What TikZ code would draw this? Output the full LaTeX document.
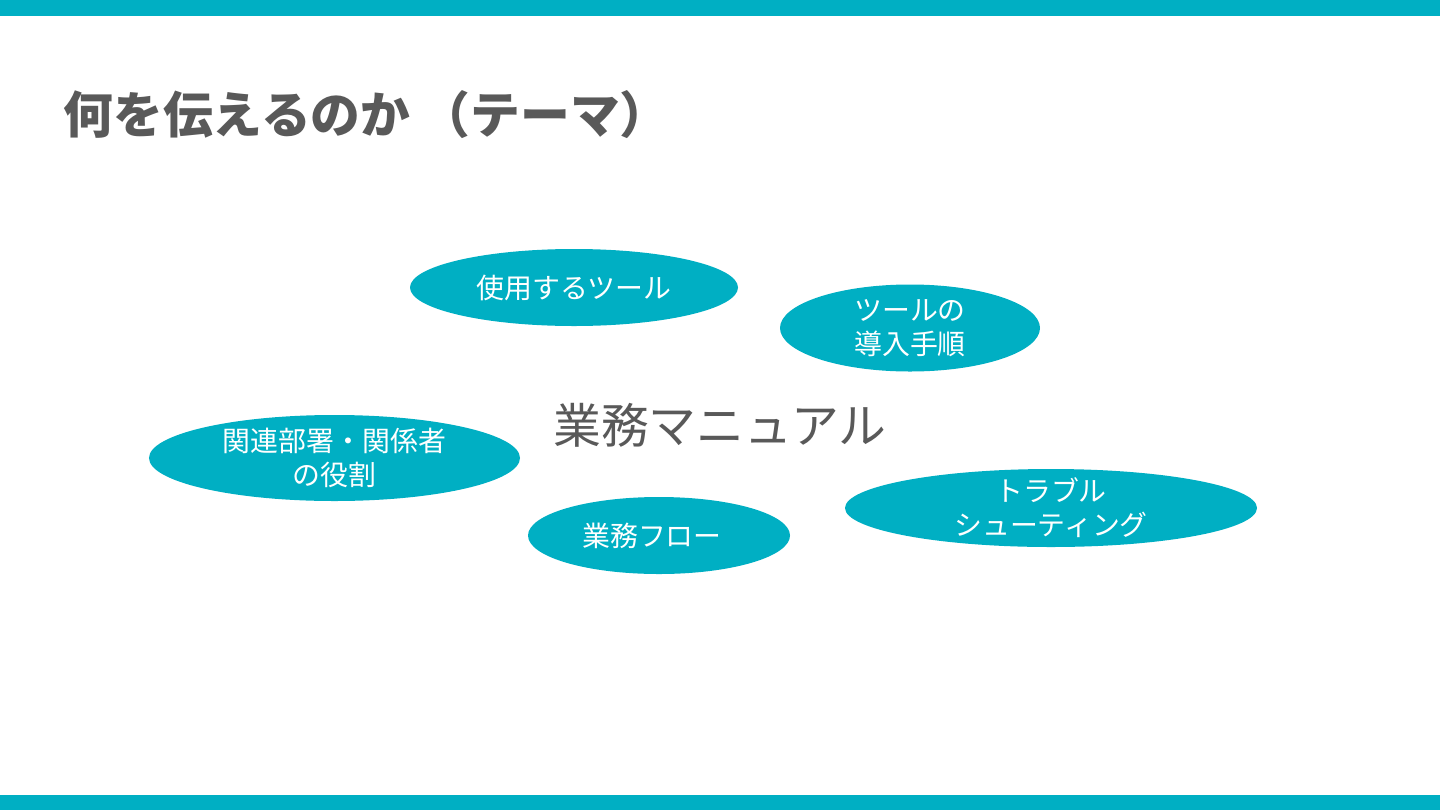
\documentclass[tikz,border=0pt]{standalone}
\usepackage{fontspec}
\setmainfont{Noto Sans CJK JP}
\usetikzlibrary{shapes.geometric}
\definecolor{teal}{RGB}{0,175,195}
\definecolor{textgray}{RGB}{89,89,89}
\tikzset{
    topic/.style={ellipse, fill=teal, text=white, inner xsep=0pt, inner ysep=-2bp, align=center, font=\fontsize{14}{17}\selectfont},
    bar/.style={fill=teal, draw=none}
}

\begin{document}
\begin{tikzpicture}[x=0.5bp, y=-0.5bp]
        \useasboundingbox (0,0) rectangle (1440,810);

        % --- Bars ---
        \fill [bar] (0,0) rectangle (1440,16);
        \fill [bar] (0,795) rectangle (1440,810);

        % --- Title ---
        \node [anchor=west, text=textgray, inner sep=0pt, font=\fontsize{25}{29}\selectfont\bfseries] (title) at (63,115) {何を伝えるのか\hspace{5bp}（テーマ）};

        % --- Center ---
        \node [text=textgray, font=\fontsize{24}{28}\selectfont] (manual) at (720,425) {業務マニュアル};

        % --- Topics ---
        \node [topic, minimum width=164bp, minimum height=38.5bp] (tools) at (574,287.5) {使用するツール};
        \node [topic, minimum width=130bp, minimum height=43.5bp] (setup) at (910,328) {ツールの\\導入手順};
        \node [topic, minimum width=185.5bp, minimum height=43bp] (roles) at (334.5,458) {関連部署・関係者\\の役割};
        \node [topic, minimum width=131bp, minimum height=38.5bp] (flow) at (659,535.5) {業務フロー\hspace{7bp}};
        \node [topic, minimum width=206bp, minimum height=39bp] (trouble) at (1051,508) {トラブル\\シューティング};

\end{tikzpicture}
\end{document}
